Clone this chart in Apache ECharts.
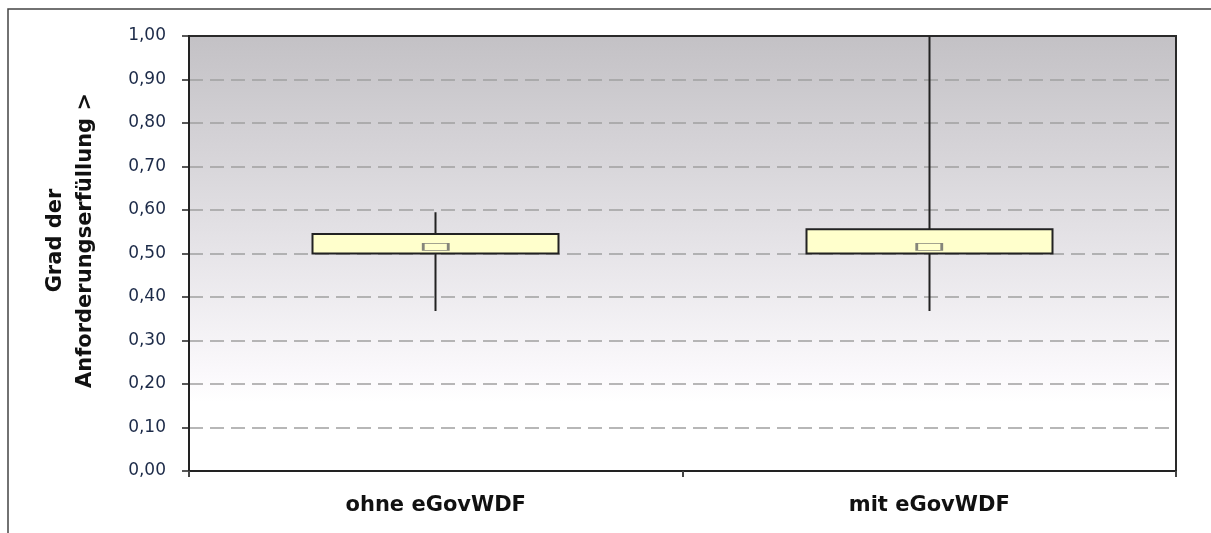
<!DOCTYPE html>
<html>
<head>
<meta charset="utf-8">
<script src="https://cdn.jsdelivr.net/npm/echarts@6/dist/echarts.min.js"></script>
<style>
  html, body { margin: 0; padding: 0; background: #fff; }
  #chart { width: 1211px; height: 533px; }
</style>
</head>
<body>
<div id="chart"></div>
<script>
// Kategorien und Werte
const categories = ['ohne eGovWDF', 'mit eGovWDF'];
const boxLow  = [0.50, 0.50];    // unteres Quartil
const boxHigh = [0.545, 0.556];  // oberes Quartil
const whiskMin = [0.368, 0.368];
const whiskMax = [0.595, 1.00];
const meanVals = [0.515, 0.515];

const chart = echarts.init(document.getElementById('chart'));

const candleData = categories.map((c, i) => [boxLow[i], boxHigh[i], whiskMin[i], whiskMax[i]]);

const option = {
  animation: false,
  grid: {
    left: 189, top: 36, right: 35, bottom: 62,
    show: true,
    borderColor: '#2a2a2a',
    borderWidth: 2,
    backgroundColor: new echarts.graphic.LinearGradient(0, 0, 0, 1, [
      { offset: 0, color: '#c3c1c5' },
      { offset: 0.45, color: '#e3e1e5' },
      { offset: 0.78, color: '#fbf9fc' },
      { offset: 0.84, color: '#ffffff' },
      { offset: 1, color: '#ffffff' }
    ])
  },
  graphic: [{
    type: 'rect',
    shape: { x: 8, y: 9, width: 1240, height: 600 },
    style: { fill: 'none', stroke: '#444', lineWidth: 1.5 },
    silent: true
  }],
  xAxis: {
    type: 'category',
    data: categories,
    boundaryGap: true,
    axisLine: { lineStyle: { color: '#222', width: 2 } },
    axisTick: { show: true, length: 6, lineStyle: { color: '#444', width: 2 } },
    axisLabel: {
      color: '#111',
      fontFamily: 'DejaVu Sans',
      fontWeight: 'bold',
      fontSize: 21,
      margin: 24
    },
    splitLine: { show: false }
  },
  yAxis: {
    type: 'value',
    min: 0,
    max: 1,
    interval: 0.1,
    name: 'Grad der\nAnforderungserfüllung >',
    nameLocation: 'middle',
    nameRotate: 90,
    nameGap: 88,
    nameTextStyle: {
      color: '#111',
      fontFamily: 'DejaVu Sans',
      fontWeight: 'bold',
      fontSize: 21,
      lineHeight: 30,
      padding: [0, 0, 0, 26]
    },
    axisLine: { show: true, lineStyle: { color: '#222', width: 2 } },
    axisTick: { show: true, length: 7, lineStyle: { color: '#222', width: 1.5 } },
    axisLabel: {
      color: '#1c2a48',
      fontFamily: 'DejaVu Sans',
      fontSize: 17,
      margin: 23,
      formatter: v => v.toFixed(2).replace('.', ',')
    },
    splitLine: {
      show: true,
      showMinLine: false,
      showMaxLine: false,
      lineStyle: { color: '#a0a0a0', width: 1.5, type: [14, 7] }
    }
  },
  series: [
    {
      type: 'candlestick',
      data: candleData,
      barWidth: '50%',
      itemStyle: {
        color: '#ffffcc',
        color0: '#ffffcc',
        borderColor: '#222',
        borderColor0: '#222',
        borderWidth: 2
      },
      z: 3
    },
    {
      type: 'scatter',
      data: meanVals,
      symbol: 'rect',
      symbolSize: [25, 7],
      itemStyle: { color: '#ffffcc', borderColor: '#666', borderWidth: 1.5 },
      z: 4
    }
  ]
};

chart.setOption(option);
</script>
</body>
</html>
